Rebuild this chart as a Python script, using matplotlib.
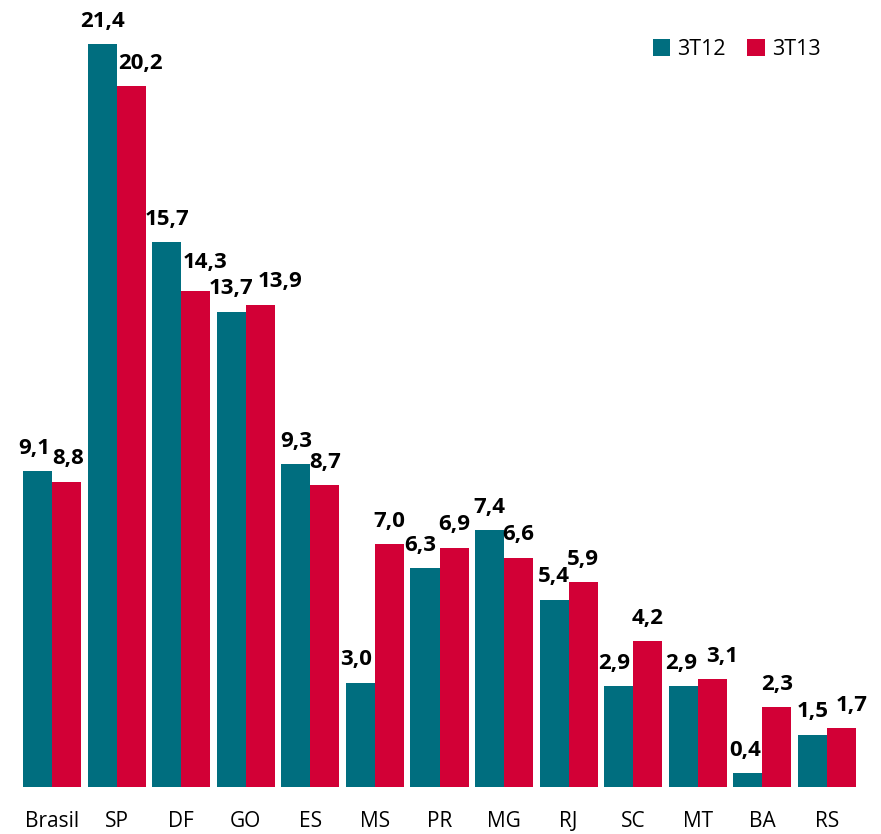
import matplotlib.pyplot as plt
import numpy as np

estados = ['Brasil', 'SP', 'DF', 'GO', 'ES', 'MS', 'PR', 'MG', 'RJ', 'SC', 'MT', 'BA', 'RS']
t12 = [9.1, 21.4, 15.7, 13.7, 9.3, 3.0, 6.3, 7.4, 5.4, 2.9, 2.9, 0.4, 1.5]
t13 = [8.8, 20.2, 14.3, 13.9, 8.7, 7.0, 6.9, 6.6, 5.9, 4.2, 3.1, 2.3, 1.7]

cor12 = '#006E7F'
cor13 = '#D20036'

def fmt(v):
    return f'{v:.1f}'.replace('.', ',')

def main():
    plt.rcParams['font.family'] = ['Open Sans', 'DejaVu Sans']
    fig = plt.figure(figsize=(8.81, 8.34), dpi=100)
    ax = fig.add_axes([23 / 881, 47 / 834, 833 / 881, 787 / 834])

    x = np.arange(len(estados))
    w = 0.45
    b1 = ax.bar(x - w / 2, t12, w, color=cor12, label='3T12')
    b2 = ax.bar(x + w / 2, t13, w, color=cor13, label='3T13')

    # deslocamentos dos rotulos (pontos) para evitar sobreposicao
    desl12 = {0: (-2.5, 0), 5: (-3, 0), 6: (-3.5, 0), 9: (-3.5, 0), 10: (-1.5, 0), 11: (-2, 0)}
    desl13 = {0: (1, 0), 1: (7, 0), 2: (7, 4), 3: (14, 0), 10: (7, 0), 12: (7, 0)}
    for barras, vals, desl in ((b1, t12, desl12), (b2, t13, desl13)):
        for i, r in enumerate(barras):
            dx, dy = desl.get(i, (0, 0))
            ax.annotate(fmt(vals[i]), (r.get_x() + r.get_width() / 2, r.get_height()),
                        xytext=(dx, 9 + dy), textcoords='offset points',
                        ha='center', va='bottom', fontsize=16, fontweight='bold')

    ax.set_xlim(-0.45, len(estados) - 1 + 0.45)
    ax.set_ylim(0, 22.68)
    ax.set_xticks(x)
    ax.set_xticklabels(estados, fontsize=15)
    ax.tick_params(axis='x', length=0, pad=17)
    ax.set_yticks([])
    for s in ax.spines.values():
        s.set_visible(False)

    ax.legend(loc='upper right', bbox_to_anchor=(0.981, 0.975), ncol=2, frameon=False,
              fontsize=15.5, handlelength=0.8, handleheight=0.8, handletextpad=0.35,
              columnspacing=1.0)

    fig.savefig('out.png', dpi=100)

if __name__ == '__main__':
    main()
